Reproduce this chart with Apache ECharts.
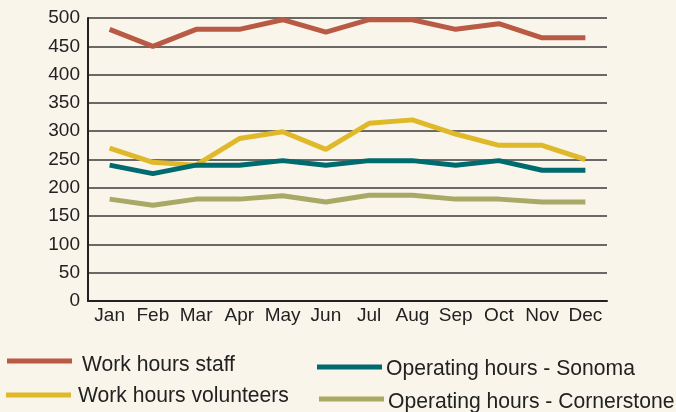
<!DOCTYPE html>
<html>
<head>
<meta charset="utf-8">
<script src="https://cdn.jsdelivr.net/npm/echarts@6/dist/echarts.min.js"></script>
<style>
  html, body { margin: 0; padding: 0; background: #f9f5ea; }
  #chart { width: 676px; height: 412px; }
</style>
</head>
<body>
<div id="chart"></div>
<script>
const months = ['Jan', 'Feb', 'Mar', 'Apr', 'May', 'Jun', 'Jul', 'Aug', 'Sep', 'Oct', 'Nov', 'Dec']
const staff = [480, 450, 480, 480, 497, 475, 497, 497, 480, 490, 465, 465]
const volunteers = [270, 245, 240, 287, 299, 268, 314, 320, 295, 275, 275, 250]
const sonoma = [240, 225, 240, 240, 248, 240, 248, 248, 240, 248, 231, 231]
const cornerstone = [180, 169, 180, 180, 186, 175, 187, 187, 180, 180, 175, 175]
const seriesNames = ['Work hours staff', 'Work hours volunteers', 'Operating hours - Sonoma', 'Operating hours - Cornerstone']
const colors = ['#b95a45', '#e0b92a', '#006b6e', '#a8a867']

const font = '"Liberation Sans", Arial, sans-serif'
const chart = echarts.init(document.getElementById('chart'))

// legend laid out by hand in a 2x2 block; icon from the legend, label as slightly narrow text
const iconPos = [[7, 361], [6, 395], [317, 367], [319, 399]]
const textPos = [[82, 365], [78, 396], [386, 368.5], [388, 401.5]]

const legends = seriesNames.map((n, i) => ({
  data: [n],
  left: iconPos[i][0], top: iconPos[i][1] - 2.5, padding: 0,
  icon: 'rect', itemWidth: 65, itemHeight: 5, itemGap: 0,
  formatter: () => '',
  textStyle: { fontSize: 5, padding: 0 }
}))

const labels = seriesNames.map((n, i) => ({
  type: 'text',
  x: textPos[i][0], y: textPos[i][1],
  scaleX: 0.96,
  silent: true,
  style: { text: n, fontFamily: font, fontSize: 22, fill: '#222', verticalAlign: 'middle' }
}))

const dataSets = [staff, volunteers, sonoma, cornerstone]
chart.setOption({
  backgroundColor: '#f9f5ea',
  animation: false,
  legend: legends,
  graphic: labels,
  grid: { left: 88, right: 69, top: 18, bottom: 111 },
  xAxis: {
    type: 'category', data: months, boundaryGap: true,
    axisLine: { lineStyle: { color: '#222', width: 2 } },
    axisTick: { inside: true, length: 5, alignWithLabel: true, lineStyle: { color: '#222', width: 2 } },
    axisLabel: { interval: 0, fontFamily: font, fontSize: 19, color: '#222', margin: 5 }
  },
  yAxis: {
    type: 'value', min: 0, max: 500, interval: 50,
    axisLine: { show: true, lineStyle: { color: '#222', width: 2 } },
    axisTick: { show: false },
    axisLabel: { fontFamily: font, fontSize: 19, color: '#222', margin: 8 },
    splitLine: { lineStyle: { color: '#3a3a3a', width: 1.5 } }
  },
  series: dataSets.map((d, i) => ({
    name: seriesNames[i], type: 'line', data: d,
    color: colors[i], showSymbol: false, symbol: 'none',
    lineStyle: { width: 5, color: colors[i], cap: 'butt' }
  }))
})
</script>
</body>
</html>
